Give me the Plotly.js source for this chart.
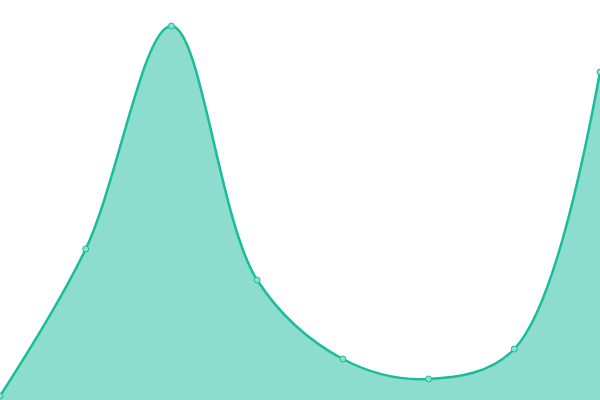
<!DOCTYPE html>
<html><head><meta charset="utf-8">
<script src="https://cdn.plot.ly/plotly-3.0.1.min.js"></script>
<style>html,body{margin:0;padding:0;background:#fff}#c{width:600px;height:400px}</style>
</head><body><div id="c"></div>
<script>
const xs = [0, 1, 2, 3, 4, 5, 6, 7];
const values = [4, 151, 374, 120, 41, 21, 51, 328];
Plotly.newPlot('c', [{
  x: xs, y: values, type: 'scatter', mode: 'lines+markers',
  fill: 'tozeroy', fillcolor: 'rgba(26,188,156,0.5)',
  line: {color: '#1abc9c', width: 2.5, shape: 'spline', smoothing: 1},
  marker: {size: 6, color: '#8de0cf', line: {color: '#1abc9c', width: 1}},
  cliponaxis: false, hoverinfo: 'none'
}], {
  width: 600, height: 400, margin: {l: 0, r: 0, t: 0, b: 0},
  paper_bgcolor: '#fff', plot_bgcolor: '#fff', showlegend: false,
  xaxis: {range: [0, 7], visible: false, fixedrange: true},
  yaxis: {range: [0, 400], visible: false, fixedrange: true}
}, {displayModeBar: false, staticPlot: true});
</script></body></html>
